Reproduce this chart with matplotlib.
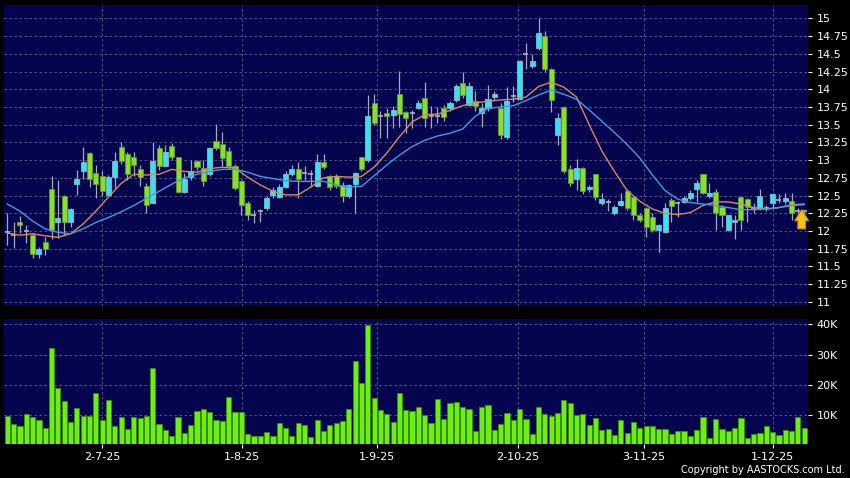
import numpy as np
import matplotlib
matplotlib.use("Agg")
import matplotlib.pyplot as plt

# daily OHLC (HKD)
opens = [11.98, 11.94, 12.13, 12.00, 11.94, 11.68, 11.85, 12.59, 12.13, 12.50,
         12.12, 12.66, 12.85, 13.10, 12.82, 12.78, 12.51, 12.76, 13.18, 13.09,
         13.04, 12.88, 12.63, 12.40, 13.17, 12.92, 13.20, 13.04, 12.55, 12.76,
         12.99, 12.89, 12.80, 13.27, 13.23, 13.13, 12.92, 12.70, 12.40, 12.23,
         12.28, 12.32, 12.51, 12.48, 12.62, 12.80, 12.88, 12.82, 12.80, 12.63,
         12.98, 12.77, 12.78, 12.65, 12.49, 12.66, 13.04, 13.00, 13.80, 13.62,
         13.67, 13.64, 13.93, 13.68, 13.66, 13.74, 13.88, 13.62, 13.63, 13.73,
         13.74, 13.85, 14.09, 13.78, 13.84, 13.66, 13.74, 13.89, 13.74, 13.33,
         13.90, 13.87, 14.50, 14.33, 14.59, 14.75, 14.29, 13.35, 13.75, 12.87,
         12.73, 12.89, 12.59, 12.80, 12.40, 12.41, 12.26, 12.37, 12.57, 12.48,
         12.22, 12.33, 12.19, 12.01, 11.98, 12.43, 12.39, 12.41, 12.46, 12.59,
         12.80, 12.50, 12.55, 12.34, 12.01, 12.12, 12.48, 12.45, 12.32, 12.31,
         12.32, 12.39, 12.44, 12.42, 12.42, 12.28, 12.28]
highs = [12.25, 12.13, 12.21, 12.09, 11.97, 11.78, 11.91, 12.77, 12.72, 12.51,
         12.32, 12.86, 13.19, 13.12, 12.93, 12.84, 12.79, 13.12, 13.26, 13.12,
         13.12, 12.93, 12.67, 13.26, 13.21, 13.21, 13.24, 13.05, 12.82, 13.00,
         13.00, 13.00, 13.19, 13.51, 13.40, 13.18, 12.95, 12.72, 12.42, 12.30,
         12.31, 12.49, 12.62, 12.66, 12.84, 12.93, 12.97, 12.91, 12.86, 13.09,
         13.09, 12.79, 12.80, 12.69, 12.66, 12.83, 13.05, 13.92, 13.93, 13.70,
         13.73, 13.77, 14.26, 13.70, 13.71, 13.85, 14.10, 13.77, 13.75, 13.78,
         13.84, 14.08, 14.25, 14.10, 13.98, 13.80, 14.06, 13.97, 13.80, 14.03,
         14.05, 14.42, 14.65, 14.50, 15.00, 14.83, 14.30, 13.66, 13.76, 12.93,
         13.02, 12.90, 12.65, 12.81, 12.53, 12.45, 12.36, 12.53, 12.59, 12.50,
         12.25, 12.34, 12.25, 12.10, 12.40, 12.46, 12.42, 12.50, 12.58, 12.72,
         12.81, 12.67, 12.59, 12.36, 12.22, 12.23, 12.50, 12.47, 12.40, 12.59,
         12.36, 12.54, 12.52, 12.53, 12.53, 12.32, 12.30]
lows = [11.80, 11.76, 11.97, 11.83, 11.62, 11.62, 11.66, 11.88, 11.90, 11.94,
        12.06, 12.51, 12.74, 12.62, 12.46, 12.49, 12.49, 12.60, 12.95, 12.72,
        12.77, 12.63, 12.25, 12.39, 12.86, 12.91, 13.00, 12.54, 12.53, 12.72,
        12.86, 12.63, 12.77, 13.14, 12.91, 12.88, 12.58, 12.23, 12.16, 12.11,
        12.13, 12.30, 12.46, 12.46, 12.60, 12.78, 12.46, 12.72, 12.62, 12.62,
        12.88, 12.58, 12.60, 12.41, 12.47, 12.26, 12.85, 12.98, 13.50, 13.31,
        13.31, 13.45, 13.47, 13.38, 13.45, 13.72, 13.47, 13.45, 13.52, 13.55,
        13.70, 13.82, 13.88, 13.76, 13.70, 13.47, 13.70, 13.85, 13.30, 13.30,
        13.82, 13.85, 14.28, 14.30, 14.55, 14.25, 13.68, 13.21, 12.82, 12.63,
        12.58, 12.52, 12.55, 12.43, 12.37, 12.28, 12.22, 12.35, 12.30, 12.16,
        12.12, 11.92, 11.99, 11.70, 11.97, 12.13, 12.20, 12.39, 12.44, 12.41,
        12.52, 12.46, 12.01, 12.05, 12.00, 11.88, 12.02, 12.13, 12.25, 12.30,
        12.28, 12.32, 12.40, 12.38, 12.15, 12.20, 12.22]
closes = [11.98, 11.94, 12.08, 12.00, 11.68, 11.74, 11.74, 12.01, 12.18, 12.12,
          12.31, 12.74, 12.97, 12.74, 12.66, 12.56, 12.76, 12.99, 12.99, 12.81,
          12.93, 12.76, 12.37, 12.99, 12.91, 13.12, 13.04, 12.55, 12.73, 12.84,
          12.90, 12.70, 13.17, 13.17, 13.03, 12.91, 12.60, 12.36, 12.23, 12.23,
          12.28, 12.46, 12.58, 12.62, 12.80, 12.87, 12.73, 12.82, 12.80, 12.98,
          12.90, 12.62, 12.63, 12.49, 12.65, 12.82, 12.87, 13.63, 13.53, 13.62,
          13.62, 13.71, 13.65, 13.59, 13.66, 13.81, 13.60, 13.62, 13.63, 13.61,
          13.81, 14.05, 13.92, 14.05, 13.76, 13.74, 13.86, 13.93, 13.35, 13.84,
          13.90, 14.40, 14.50, 14.40, 14.79, 14.29, 13.85, 13.59, 12.84, 12.68,
          12.89, 12.57, 12.62, 12.48, 12.45, 12.41, 12.34, 12.42, 12.33, 12.23,
          12.16, 12.06, 12.01, 12.08, 12.33, 12.35, 12.39, 12.46, 12.53, 12.68,
          12.53, 12.53, 12.26, 12.22, 12.22, 12.15, 12.15, 12.34, 12.32, 12.49,
          12.32, 12.52, 12.44, 12.46, 12.26, 12.28, 12.28]

# volume, thousands of shares
volume_k = [9.7, 6.9, 6.5, 10.3, 9.2, 8.3, 5.6, 32.0, 18.9, 14.6,
            7.7, 12.2, 9.6, 9.8, 17.3, 8.5, 14.9, 6.4, 9.2, 5.4,
            9.5, 9.0, 9.7, 25.6, 7.1, 5.0, 3.1, 9.4, 4.1, 6.6,
            11.4, 12.1, 10.9, 8.5, 8.0, 16.1, 11.0, 11.0, 3.7, 3.2,
            3.0, 4.4, 3.1, 7.5, 5.6, 3.2, 7.3, 6.6, 2.6, 8.2,
            4.6, 6.6, 7.4, 8.0, 11.9, 27.7, 20.6, 39.7, 15.5, 11.8,
            10.4, 7.6, 17.4, 11.7, 11.2, 12.7, 9.9, 7.2, 15.4, 8.6,
            14.1, 14.3, 12.6, 12.1, 4.7, 12.6, 13.3, 5.0, 6.9, 10.8,
            8.2, 12.0, 8.6, 3.7, 12.5, 10.4, 9.7, 10.5, 14.9, 13.9,
            9.9, 10.3, 6.6, 9.0, 4.9, 5.3, 3.3, 8.3, 4.0, 7.6,
            5.6, 6.3, 6.3, 5.4, 5.4, 3.7, 4.6, 4.6, 3.2, 5.1,
            9.5, 2.5, 8.6, 5.5, 4.7, 5.7, 8.9, 2.3, 3.6, 4.0,
            6.2, 4.3, 3.4, 5.2, 4.6, 9.3, 5.7]

# moving averages, read every second session
ma_idx = list(range(0, 127, 2))
ma_short = [11.97, 11.94, 11.96, 11.93, 11.91, 11.96, 12.10, 12.28, 12.48, 12.67,
            12.80, 12.79, 12.80, 12.87, 12.84, 12.83, 12.88, 12.90, 12.89, 12.76,
            12.65, 12.56, 12.51, 12.51, 12.62, 12.75, 12.77, 12.76, 12.77, 12.90,
            13.10, 13.33, 13.54, 13.64, 13.65, 13.70, 13.77, 13.81, 13.83, 13.85,
            13.86, 13.89, 14.04, 14.10, 14.03, 13.89, 13.50, 13.13, 12.84, 12.57,
            12.42, 12.31, 12.25, 12.23, 12.26, 12.36, 12.41, 12.41, 12.38, 12.33,
            12.31, 12.33, 12.37, 12.38]
ma_long = [12.38, 12.28, 12.14, 12.03, 11.98, 11.96, 12.03, 12.12, 12.19, 12.27,
           12.36, 12.46, 12.56, 12.66, 12.75, 12.80, 12.84, 12.87, 12.87, 12.83,
           12.77, 12.74, 12.71, 12.70, 12.70, 12.70, 12.65, 12.62, 12.63, 12.78,
           12.93, 13.07, 13.19, 13.28, 13.34, 13.38, 13.44, 13.62, 13.73, 13.75,
           13.77, 13.84, 13.92, 13.99, 13.93, 13.86, 13.71, 13.55, 13.39, 13.22,
           13.03, 12.79, 12.57, 12.45, 12.40, 12.38, 12.36, 12.33, 12.30, 12.30,
           12.31, 12.33, 12.36, 12.37]

date_pos = [15.0, 37.15, 58.4, 80.7, 100.7, 121.0]
date_labels = ["2-7-25", "1-8-25", "1-9-25", "2-10-25", "3-11-25", "1-12-25"]

BG = "#03034e"
GRID = "#5c5c96"
UP = "#33e4f0"
DOWN = "#86e02c"
VOL = "#6cf010"

o = np.array(opens)
h = np.array(highs)
l = np.array(lows)
c = np.array(closes)
x = np.arange(len(o))

fig = plt.figure(figsize=(8.5, 4.78), dpi=100, facecolor="black")
ax = fig.add_axes([0.0047, 0.3598, 0.9459, 0.6297])
axv = fig.add_axes([0.0047, 0.0711, 0.9459, 0.2615])

for a in (ax, axv):
    a.set_facecolor(BG)
    for s in a.spines.values():
        s.set_visible(False)
    a.set_axisbelow(True)
    a.yaxis.tick_right()
    a.grid(True, color=GRID, linestyle=(0, (3, 3)), linewidth=0.6)
    a.tick_params(axis="y", direction="out", length=3, width=0.8, colors="white",
                  labelsize=8, pad=3)
    a.set_xlim(-0.52, 126.6)
    a.set_xticks(date_pos)

# candles
ax.vlines(x, l, h, color="#a8a8b8", linewidth=0.9, zorder=2)
up = c > o
down = c < o
flat = c == o
ax.bar(x[up], (c - o)[up], bottom=o[up], width=0.8, color=UP,
       edgecolor="#8fb8c8", linewidth=0.6, zorder=3)
ax.bar(x[down], (o - c)[down], bottom=c[down], width=0.8, color=DOWN,
       edgecolor="#5e9a2a", linewidth=0.6, zorder=3)
ax.hlines(o[flat], x[flat] - 0.4, x[flat] + 0.4, color="#b0b0c0", linewidth=1.2, zorder=3)

ax.plot(ma_idx, ma_short, color="#d98a5c", linewidth=1.0, zorder=4)
ax.plot(ma_idx, ma_long, color="#3c9ee0", linewidth=1.0, zorder=4)

# last-price marker
ax.annotate("", xy=(125.6, 12.34), xytext=(125.6, 11.99),
            arrowprops=dict(arrowstyle="simple,head_length=0.8,head_width=1.0,tail_width=0.55",
                            fc="#f6c21c", ec="#c88a00", lw=0.8), zorder=5)

ax.set_ylim(10.94, 15.19)
yt = np.arange(11, 15.01, 0.25)
ax.set_yticks(yt)
ax.set_yticklabels([f"{v:g}" for v in yt])
ax.tick_params(axis="x", length=0, labelbottom=False)

# volume
axv.bar(x, volume_k, width=0.82, color=VOL, edgecolor="#3c8c08", linewidth=0.6, zorder=3)
axv.set_ylim(0.4, 41.75)
axv.set_yticks([10, 20, 30, 40])
axv.set_yticklabels(["10K", "20K", "30K", "40K"])
axv.set_xticklabels(date_labels)
axv.tick_params(axis="x", direction="out", length=3, colors="white", labelsize=8, pad=3)

fig.text(0.994, 0.006, "Copyright by AASTOCKS.com Ltd.", color="white", fontsize=7,
         ha="right", va="bottom")

fig.savefig("out.png", dpi=100, facecolor="black")
